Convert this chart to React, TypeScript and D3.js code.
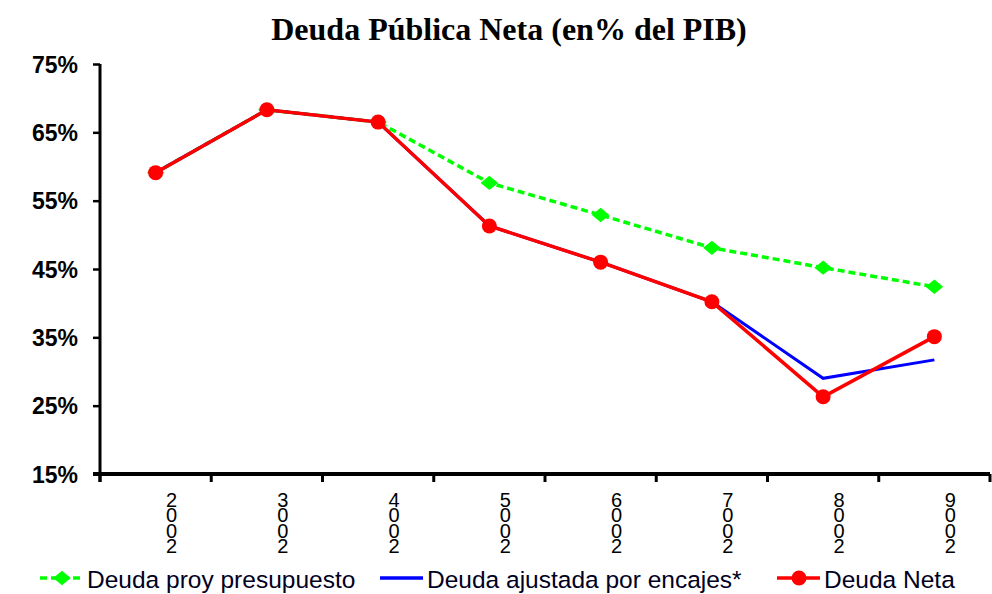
import { useRef, useEffect } from 'react';
import * as d3 from 'd3';

const years = ['2002', '2003', '2004', '2005', '2006', '2007', '2008', '2009'];
const proyPresupuesto = [59.1, 68.3, 66.5, 57.6, 52.9, 48.1, 45.2, 42.4];
const ajustadaEncajes = [59.1, 68.3, 66.5, 51.3, 46.0, 40.2, 29.0, 31.7];
const deudaNeta = [59.1, 68.3, 66.5, 51.3, 46.0, 40.2, 26.3, 35.1];
const yTicks = [15, 25, 35, 45, 55, 65, 75];

const width = 992;
const height = 594;
const margin = { top: 64, right: 2, bottom: 120, left: 100 };

// flat diamond like the Excel marker (wider than tall)
const flatDiamond = {
  draw(ctx: d3.Path, size: number) {
    const w = Math.sqrt(size) * 0.62;
    const h = w * 0.82;
    ctx.moveTo(0, -h);
    ctx.lineTo(w, 0);
    ctx.lineTo(0, h);
    ctx.lineTo(-w, 0);
    ctx.closePath();
  },
};

export default function App() {
  const ref = useRef<SVGSVGElement>(null);

  useEffect(() => {
    if (!ref.current) return;
    const svg = d3.select(ref.current);
    svg.selectAll('*').remove();

    const innerWidth = width - margin.left - margin.right;
    const innerHeight = height - margin.top - margin.bottom;

    const x = d3.scaleBand().domain(years).range([0, innerWidth]);
    const y = d3.scaleLinear().domain([15, 75]).range([innerHeight, 0]);
    const cx = (d: string) => x(d)! + x.bandwidth() / 2;

    svg
      .append('rect')
      .attr('width', width)
      .attr('height', height)
      .attr('fill', '#ffffff');

    svg
      .append('text')
      .attr('x', 509)
      .attr('y', 40)
      .attr('text-anchor', 'middle')
      .style('font-family', '"Liberation Serif", "Times New Roman", serif')
      .style('font-weight', 'bold')
      .style('font-size', '32px')
      .text('Deuda Pública Neta (en% del PIB)');

    const g = svg
      .append('g')
      .attr('transform', `translate(${margin.left},${margin.top})`);

    // Y axis
    const yAxis = g
      .append('g')
      .call(
        d3
          .axisLeft(y)
          .tickValues(yTicks)
          .tickSize(7)
          .tickPadding(15)
          .tickFormat((d) => `${d}%`)
      );
    yAxis.select('.domain').attr('stroke', '#000').attr('stroke-width', 3).attr('d', `M0,0V${innerHeight + 8}`);
    yAxis.selectAll('.tick line').attr('stroke-width', 2.5);
    yAxis
      .selectAll('text')
      .attr('dy', '0.36em')
      .style('font-family', '"Liberation Sans", Arial, sans-serif')
      .style('font-weight', 'bold')
      .style('font-size', '23px')
      .attr('fill', '#000');

    // X axis
    const xAxis = g
      .append('g')
      .attr('transform', `translate(0,${innerHeight})`)
      .call(d3.axisBottom(x).tickSize(0).tickFormat(() => ''));
    xAxis.select('.domain').attr('stroke', '#000').attr('stroke-width', 4).attr('d', `M-7,0H${innerWidth}`);
    const bounds = years.map((d) => x(d)!).concat([innerWidth]);
    xAxis
      .selectAll('line.bound')
      .data(bounds)
      .enter()
      .append('line')
      .attr('class', 'bound')
      .attr('x1', (d) => d)
      .attr('x2', (d) => d)
      .attr('y1', 0)
      .attr('y2', 8)
      .attr('stroke', '#000')
      .attr('stroke-width', 3);

    // stacked year labels, last digit on top (as in the original)
    const labels = xAxis
      .selectAll('text.yr')
      .data(years)
      .enter()
      .append('text')
      .attr('class', 'yr')
      .attr('text-anchor', 'middle')
      .attr('transform', (d) => `translate(${cx(d) + 16},0)`)
      .style('font-family', '"Liberation Sans", Arial, sans-serif')
      .style('font-size', '20px')
      .attr('fill', '#000');
    labels
      .selectAll('tspan')
      .data((d) => d.split('').reverse())
      .enter()
      .append('tspan')
      .attr('x', 0)
      .attr('y', (_, i) => 33 + i * 15.3)
      .text((c) => c);

    // Lines
    const line = d3
      .line<number>()
      .x((_, i) => cx(years[i]))
      .y((d) => y(d));

    g.append('path')
      .datum(proyPresupuesto)
      .attr('fill', 'none')
      .attr('stroke', '#00ff00')
      .attr('stroke-width', 3.5)
      .attr('stroke-dasharray', '7,4')
      .attr('d', line);

    const diamond = d3.symbol().type(flatDiamond).size(200);
    g.selectAll('path.diam')
      .data(proyPresupuesto)
      .enter()
      .append('path')
      .attr('class', 'diam')
      .attr('d', diamond)
      .attr('transform', (d, i) => `translate(${cx(years[i])},${y(d)})`)
      .attr('fill', '#00ff00');

    g.append('path')
      .datum(ajustadaEncajes)
      .attr('fill', 'none')
      .attr('stroke', '#0000ff')
      .attr('stroke-width', 3)
      .attr('d', line);

    g.append('path')
      .datum(deudaNeta)
      .attr('fill', 'none')
      .attr('stroke', '#ff0000')
      .attr('stroke-width', 3.5)
      .attr('d', line);

    g.selectAll('circle.net')
      .data(deudaNeta)
      .enter()
      .append('circle')
      .attr('class', 'net')
      .attr('cx', (_, i) => cx(years[i]))
      .attr('cy', (d) => y(d))
      .attr('r', 7.5)
      .attr('fill', '#ff0000');

    // Legend
    const legend = [
      { name: 'Deuda proy presupuesto', color: '#00ff00', dash: '7,4', marker: 'diamond', x: 40 },
      { name: 'Deuda ajustada por encajes*', color: '#0000ff', dash: null, marker: null, x: 380 },
      { name: 'Deuda Neta', color: '#ff0000', dash: null, marker: 'circle', x: 777 },
    ];
    const lg = svg.append('g').attr('transform', 'translate(0,578)');
    legend.forEach((l) => {
      const item = lg.append('g').attr('transform', `translate(${l.x},0)`);
      item
        .append('line')
        .attr('x1', 0)
        .attr('x2', 43)
        .attr('stroke', l.color)
        .attr('stroke-width', 3.5)
        .attr('stroke-dasharray', l.dash);
      if (l.marker === 'diamond') {
        item.append('path').attr('d', diamond).attr('transform', 'translate(22,0)').attr('fill', l.color);
      } else if (l.marker === 'circle') {
        item.append('circle').attr('cx', 22).attr('r', 7.5).attr('fill', l.color);
      }
      item
        .append('text')
        .attr('x', 47)
        .attr('y', 10)
        .style('font-family', '"Liberation Sans", Arial, sans-serif')
        .style('font-size', '24.5px')
        .attr('fill', '#000022')
        .text(l.name);
    });
  }, []);

  return (
    <svg
      ref={ref}
      width={width}
      height={height}
      style={{ position: 'absolute', left: 0, top: 0 }}
    />
  );
}
